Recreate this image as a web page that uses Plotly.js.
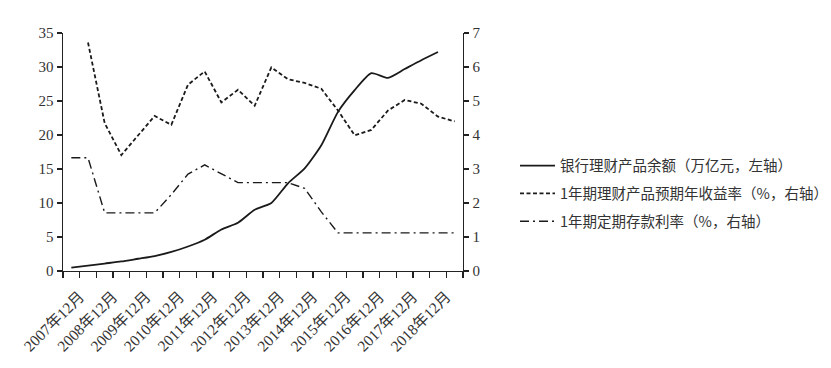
<!DOCTYPE html>
<html>
<head>
<meta charset="utf-8">
<script src="https://cdn.plot.ly/plotly-3.0.1.min.js"></script>
<style>html,body{margin:0;padding:0;background:#fff;}#chart{width:831px;height:368px;}</style>
</head>
<body>
<div id="chart"></div>
<script>
// Half-year periods (category positions)
const periods = ["2007年12月","2008年6月","2008年12月","2009年6月","2009年12月","2010年6月",
  "2010年12月","2011年6月","2011年12月","2012年6月","2012年12月","2013年6月",
  "2013年12月","2014年6月","2014年12月","2015年6月","2015年12月","2016年6月",
  "2016年12月","2017年6月","2017年12月","2018年6月","2018年12月","2019年6月"];
// Tick labels shown on the axis
const tickLabels = ["2007年12月","2008年12月","2009年12月","2010年12月","2011年12月","2012年12月",
  "2013年12月","2014年12月","2015年12月","2016年12月","2017年12月","2018年12月"];
// 银行理财产品余额（万亿元，左轴）
const balance = [0.5, 0.8, 1.1, 1.4, 1.8, 2.2, 2.8, 3.6, 4.6, 6.1, 7.1, 9.0,
  10.0, 12.9, 15.1, 18.5, 23.4, 26.6, 29.1, 28.4, 29.7, 31.0, 32.2, null];
// 1年期理财产品预期年收益率（%，右轴）
const wmpYield = [null, 6.72, 4.35, 3.41, 4.0, 4.56, 4.3, 5.48, 5.87, 4.96, 5.33, 4.86,
  5.99, 5.64, 5.53, 5.36, 4.72, 3.99, 4.15, 4.72, 5.03, 4.92, 4.54, 4.4];
// 1年期定期存款利率（%，右轴）
const depositRate = [3.33, 3.33, 1.71, 1.71, 1.71, 1.71, 2.25, 2.85, 3.12, 2.85, 2.6, 2.6,
  2.6, 2.6, 2.43, 1.74, 1.12, 1.12, 1.12, 1.12, 1.12, 1.12, 1.12, 1.12];
const seriesNames = ["银行理财产品余额（万亿元，左轴）", "1年期理财产品预期年收益率（%，右轴）", "1年期定期存款利率（%，右轴）"];

const xIdx = periods.map((_, i) => i);
// tick marks at category boundaries, labels every other boundary
const tickVals = [], tickText = [];
for (let i = 0; i <= periods.length; i++) {
  tickVals.push(i - 0.5);
  const k = (i - 1) / 2;
  tickText.push((i % 2 === 1 && k < tickLabels.length) ? tickLabels[k] : "");
}

const FONT = "Liberation Serif, Noto Sans CJK SC, serif";
const LC = "#1a1a1a";

const traces = [
  {x: xIdx, y: balance, name: seriesNames[0], type: "scatter", mode: "lines",
   line: {color: LC, width: 1.8, shape: "spline", smoothing: 0.6}, yaxis: "y", legendgroup: "a"},
  {x: xIdx, y: wmpYield, name: seriesNames[1], type: "scatter", mode: "lines",
   line: {color: LC, width: 1.8, dash: "4px,2.5px"}, yaxis: "y2", legendgroup: "b"},
  {x: xIdx, y: depositRate, name: seriesNames[2], type: "scatter", mode: "lines",
   line: {color: LC, width: 1.4, dash: "9px,4px,2px,4px"}, yaxis: "y2", legendgroup: "c"}
];

const layout = {
  width: 831, height: 368,
  margin: {l: 63, r: 368, t: 33, b: 97, autoexpand: false},
  paper_bgcolor: "#fff", plot_bgcolor: "#fff",
  font: {family: FONT, size: 15, color: "#333"},
  showlegend: true,
  legend: {x: 1.13, y: 0.325, xanchor: "left", yanchor: "middle", itemwidth: 35,
    font: {family: "Noto Sans CJK SC, Liberation Serif, sans-serif", size: 14.5, color: "#333"},
    tracegroupgap: 6, bgcolor: "rgba(0,0,0,0)"},
  xaxis: {
    range: [-0.5, periods.length - 0.5], tickmode: "array", tickvals: tickVals, ticktext: tickText,
    tickangle: -45, ticks: "outside", ticklen: 6, tickwidth: 1.2, tickcolor: "#222",
    ticklabelstandoff: 3,
    showline: true, linecolor: "#222", linewidth: 1.4, showgrid: false, zeroline: false,
    tickfont: {family: FONT, size: 15.5, color: "#333"}, fixedrange: true
  },
  yaxis: {
    range: [0, 35], dtick: 5, tick0: 0, ticks: "outside", ticklen: 5, tickwidth: 1.2, tickcolor: "#222",
    showline: true, linecolor: "#222", linewidth: 1.4, showgrid: false, zeroline: false,
    tickfont: {family: FONT, size: 15, color: "#333"}
  },
  yaxis2: {
    range: [0, 7], dtick: 1, tick0: 0, overlaying: "y", side: "right", anchor: "x",
    ticks: "outside", ticklen: 5, tickwidth: 1.2, tickcolor: "#222",
    showline: true, linecolor: "#222", linewidth: 1.4, showgrid: false, zeroline: false,
    tickfont: {family: FONT, size: 15, color: "#333"}
  }
};

Plotly.newPlot("chart", traces, layout, {displayModeBar: false, staticPlot: true});
</script>
</body>
</html>
